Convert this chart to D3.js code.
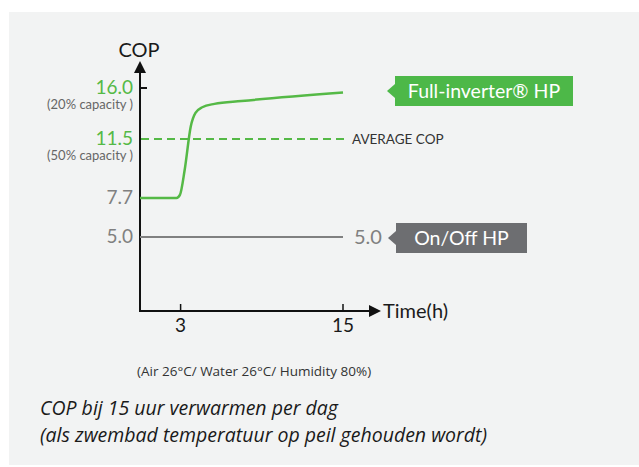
<!DOCTYPE html>
<html>
<head>
<meta charset="utf-8">
<script src="https://cdn.jsdelivr.net/npm/d3@7"></script>
<style>
  html, body { margin: 0; padding: 0; background: #fff; }
  svg { display: block; }
</style>
</head>
<body>
<div id="chart"></div>
<script>
// data
const fullInverter = [
  {t: 0, cop: 7.7}, {t: 2.7, cop: 7.7}, {t: 2.95, cop: 7.9}, {t: 3.3, cop: 9.5},
  {t: 3.75, cop: 12.6}, {t: 4.1, cop: 13.8}, {t: 4.6, cop: 14.3}, {t: 5.5, cop: 14.6},
  {t: 7.5, cop: 14.85}, {t: 15, cop: 15.6}
];
const onOff = [{t: 0, cop: 5.0}, {t: 15, cop: 5.0}];
const averageCop = 11.5;
const yTicks = [16.0, 11.5, 7.7, 5.0];
const yTickNotes = {16: '(20% capacity )', 11.5: '(50% capacity )'};
const greenTicks = [16.0, 11.5];
const xTicks = [3, 15];

const width = 639, height = 467;
const green = '#55b946', grey = '#808080';

const svg = d3.select('#chart').append('svg')
  .attr('width', width).attr('height', height);

// grey panel
svg.append('rect')
  .attr('x', 9).attr('y', 12)
  .attr('width', width - 9).attr('height', height - 14)
  .attr('fill', '#f2f3f3');

const x = d3.scaleLinear().domain([0, 15]).range([140, 343]);
// the original axis is not evenly spaced, so map the labelled values piece by piece
const y = d3.scaleLinear().domain([0, 5, 7.7, 11.5, 16]).range([311, 237, 198, 139, 88]);

const font = 'Lato, "Open Sans", sans-serif';

// axes
svg.append('line')
  .attr('x1', x(0)).attr('y1', y(0))
  .attr('x2', x(0)).attr('y2', 72)
  .attr('stroke', '#111').attr('stroke-width', 2);
svg.append('path')
  .attr('d', `M${x(0) - 6},73 L${x(0)},61 L${x(0) + 6},73 Z`)
  .attr('fill', '#111');
svg.append('line')
  .attr('x1', x(0) - 1).attr('y1', y(0))
  .attr('x2', 370).attr('y2', y(0))
  .attr('stroke', '#111').attr('stroke-width', 2);
svg.append('path')
  .attr('d', `M369,${y(0) - 6} L381,${y(0)} L369,${y(0) + 6} Z`)
  .attr('fill', '#111');

svg.append('text')
  .attr('x', x(0) - 1).attr('y', 57)
  .attr('text-anchor', 'middle')
  .attr('fill', '#1a1a1a')
  .style('font-family', font).style('font-size', '20px')
  .text('COP');

svg.append('text')
  .attr('x', 383).attr('y', 318)
  .attr('fill', '#1a1a1a')
  .style('font-family', font).style('font-size', '20px')
  .text('Time(h)');

// y ticks
yTicks.forEach(v => {
  svg.append('line')
    .attr('x1', x(0)).attr('x2', x(0) + 7)
    .attr('y1', y(v)).attr('y2', y(v))
    .attr('stroke', '#111').attr('stroke-width', 2);
  svg.append('text')
    .attr('x', 133).attr('y', y(v) + 6)
    .attr('text-anchor', 'end')
    .attr('fill', greenTicks.includes(v) ? green : grey)
    .style('font-family', font).style('font-size', '19px')
    .text(v.toFixed(1));
  if (yTickNotes[v]) {
    svg.append('text')
      .attr('x', 133).attr('y', y(v) + 21)
      .attr('text-anchor', 'end')
      .attr('fill', '#666')
      .style('font-family', font).style('font-size', '13px')
      .text(yTickNotes[v]);
  }
});

// x ticks
xTicks.forEach(v => {
  svg.append('line')
    .attr('x1', x(v)).attr('x2', x(v))
    .attr('y1', y(0)).attr('y2', y(0) - 7)
    .attr('stroke', '#111').attr('stroke-width', 1.5);
  svg.append('text')
    .attr('x', x(v)).attr('y', 332)
    .attr('text-anchor', 'middle')
    .attr('fill', '#1a1a1a')
    .style('font-family', font).style('font-size', '19px')
    .text(v);
});

// average dashed line
svg.append('line')
  .attr('x1', x(0) + 1).attr('x2', x(15) + 4)
  .attr('y1', y(averageCop)).attr('y2', y(averageCop))
  .attr('stroke', green).attr('stroke-width', 2)
  .attr('stroke-dasharray', '8,5');
svg.append('text')
  .attr('x', 352).attr('y', y(averageCop) + 5)
  .attr('fill', '#333')
  .style('font-family', font).style('font-size', '13.5px')
  .text('AVERAGE COP');

const line = d3.line()
  .x(d => x(d.t)).y(d => y(d.cop))
  .curve(d3.curveMonotoneX);

// on/off line
svg.append('path')
  .datum(onOff)
  .attr('d', line)
  .attr('fill', 'none')
  .attr('stroke', grey).attr('stroke-width', 2);

// full inverter curve
svg.append('path')
  .datum(fullInverter)
  .attr('d', line)
  .attr('fill', 'none')
  .attr('stroke', green).attr('stroke-width', 2.5);

// 5.0 end label
svg.append('text')
  .attr('x', 354).attr('y', y(5) + 7)
  .attr('fill', grey)
  .style('font-family', font).style('font-size', '20px')
  .text('5.0');

// tag boxes with a small pointer on the left
function tag(x0, y0, w, h, fill, label) {
  const g = svg.append('g');
  g.append('path')
    .attr('d', `M${x0 - 8},${y0 + h / 2} L${x0},${y0 + h / 2 - 7} L${x0},${y0 + h / 2 + 7} Z`)
    .attr('fill', fill);
  g.append('rect')
    .attr('x', x0).attr('y', y0)
    .attr('width', w).attr('height', h)
    .attr('fill', fill);
  g.append('text')
    .attr('x', x0 + w / 2).attr('y', y0 + h / 2 + 7)
    .attr('text-anchor', 'middle')
    .attr('fill', '#fff')
    .style('font-family', font).style('font-size', '19.5px')
    .text(label);
}
tag(395, 76, 178, 30, '#4db848', 'Full-inverter® HP');
tag(396, 223, 131, 30, '#6d6e71', 'On/Off HP');

// footnote
svg.append('text')
  .attr('x', 137).attr('y', 376)
  .attr('fill', '#333')
  .style('font-family', '"Open Sans", sans-serif').style('font-size', '13.5px')
  .text('(Air 26°C/ Water 26°C/ Humidity 80%)');

// caption
const caption = ['COP bij 15 uur verwarmen per dag', '(als zwembad temperatuur op peil gehouden wordt)'];
caption.forEach((c, i) => {
  svg.append('text')
    .attr('x', 40).attr('y', 415 + i * 27)
    .attr('fill', '#1a1a1a')
    .style('font-family', '"Open Sans", sans-serif')
    .style('font-style', 'italic')
    .style('font-size', '19.5px')
    .text(c);
});
</script>
</body>
</html>
